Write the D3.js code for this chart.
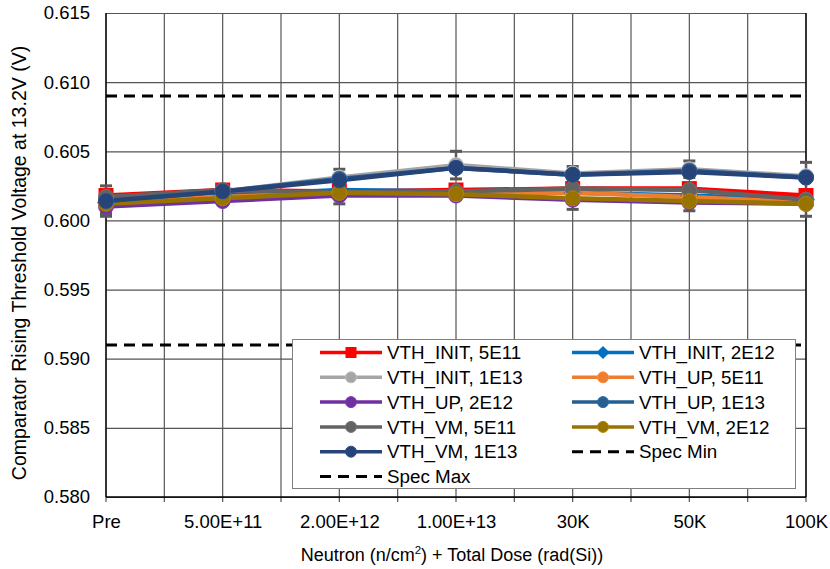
<!DOCTYPE html>
<html>
<head>
<meta charset="utf-8">
<script src="https://cdn.jsdelivr.net/npm/d3@7"></script>
<style>
  html, body { margin: 0; padding: 0; background: #fff; }
  svg { display: block; font-family: "Liberation Sans", Arial, sans-serif; }
</style>
</head>
<body>
<svg id="chart" width="830" height="569"></svg>
<script>
// Irradiation steps along the x axis
const categories = ["Pre", "5.00E+11", "2.00E+12", "1.00E+13", "30K", "50K", "100K"];
const yTicks = [0.580, 0.585, 0.590, 0.595, 0.600, 0.605, 0.610, 0.615];

// Rising threshold voltage (V) per step
const vthInit5E11 = [0.6018, 0.6022, 0.6021, 0.6022, 0.6023, 0.6023, 0.6018];
const vthInit2E12 = [0.6013, 0.6018, 0.6022, 0.6021, 0.6020, 0.6018, 0.6015];
const vthInit1E13 = [0.6015, 0.6021, 0.6031, 0.6040, 0.6034, 0.6037, 0.6032];
const vthUp5E11   = [0.6016, 0.6017, 0.6020, 0.6020, 0.6020, 0.6017, 0.6013];
const vthUp2E12   = [0.6010, 0.6014, 0.6018, 0.6018, 0.6015, 0.6013, 0.6012];
const vthUp1E13   = [0.6014, 0.6021, 0.6030, 0.6038, 0.6033, 0.6036, 0.6031];
const vthVm5E11   = [0.6017, 0.6022, 0.6020, 0.6021, 0.6023, 0.6022, 0.6015];
const vthVm2E12   = [0.6012, 0.6016, 0.6020, 0.6019, 0.6016, 0.6014, 0.6012];
const vthVm1E13   = [0.6014, 0.6021, 0.6029, 0.6038, 0.6033, 0.6035, 0.6031];

// Standard deviation used for error bars
const errInit1E13 = [0.0010, 0.0002, 0.0006, 0.0010, 0.0005, 0.0006, 0.0010];
const errVm2E12   = [0.0009, 0.0002, 0.0008, 0.0002, 0.0008, 0.0007, 0.0009];

// Specification limits (V)
const specMin = 0.591;
const specMax = 0.609;

const series = [
  { name: "VTH_INIT, 5E11", values: vthInit5E11, color: "#FF0000", shape: "square" },
  { name: "VTH_INIT, 2E12", values: vthInit2E12, color: "#0070C0", shape: "diamond" },
  { name: "VTH_INIT, 1E13", values: vthInit1E13, color: "#A5A5A5", shape: "circle", err: errInit1E13 },
  { name: "VTH_UP, 5E11",   values: vthUp5E11,   color: "#ED7D31", shape: "circle" },
  { name: "VTH_UP, 2E12",   values: vthUp2E12,   color: "#7030A0", shape: "circle" },
  { name: "VTH_UP, 1E13",   values: vthUp1E13,   color: "#255E91", shape: "circle" },
  { name: "VTH_VM, 5E11",   values: vthVm5E11,   color: "#636363", shape: "circle" },
  { name: "VTH_VM, 2E12",   values: vthVm2E12,   color: "#997300", shape: "circle", err: errVm2E12 },
  { name: "VTH_VM, 1E13",   values: vthVm1E13,   color: "#264478", shape: "circle" }
];

const svg = d3.select("#chart");
const plotL = 106, plotR = 806, plotT = 13, plotB = 497;

const x = d3.scalePoint().domain(categories).range([plotL, plotR]).padding(0);
const xIdx = d3.scaleLinear().domain([0, categories.length - 1]).range([plotL, plotR]);
const y = d3.scaleLinear().domain([0.580, 0.615]).range([plotB, plotT]);

const gridColor = "#555555";

// horizontal gridlines + y labels
const yAxis = svg.append("g")
  .attr("transform", `translate(${plotL},0)`)
  .call(d3.axisLeft(y).tickValues(yTicks).tickSize(-(plotR - plotL)).tickPadding(16).tickFormat(d3.format(".3f")));
yAxis.select(".domain").remove();
yAxis.selectAll(".tick line").attr("stroke", gridColor).attr("stroke-width", 1.2);
yAxis.selectAll(".tick text").attr("font-size", 18.5).attr("fill", "#000")
  .attr("font-family", "Liberation Sans, Arial, sans-serif");

// vertical gridlines at every half step, extending slightly below the axis
const halfSteps = d3.range(0, categories.length - 0.99, 0.5);
svg.append("g").selectAll("line").data(halfSteps).join("line")
  .attr("x1", d => xIdx(d)).attr("x2", d => xIdx(d))
  .attr("y1", plotT).attr("y2", plotB + 5)
  .attr("stroke", gridColor).attr("stroke-width", 1.2);

// plot frame
svg.append("line").attr("x1", plotL).attr("x2", plotL).attr("y1", plotT).attr("y2", plotB)
  .attr("stroke", "#000").attr("stroke-width", 1.3);
svg.append("line").attr("x1", plotR).attr("x2", plotR).attr("y1", plotT).attr("y2", plotB)
  .attr("stroke", "#000").attr("stroke-width", 1.3);
svg.append("line").attr("x1", plotL).attr("x2", plotR).attr("y1", plotB).attr("y2", plotB)
  .attr("stroke", "#000").attr("stroke-width", 1.3);

// x labels
const xAxis = svg.append("g")
  .attr("transform", `translate(0,${plotB})`)
  .call(d3.axisBottom(x).tickSize(0).tickPadding(18));
xAxis.select(".domain").remove();
xAxis.selectAll(".tick text").attr("font-size", 18.5).attr("fill", "#000")
  .attr("font-family", "Liberation Sans, Arial, sans-serif");

// spec limit lines
[specMax, specMin].forEach(v => {
  svg.append("line")
    .attr("x1", plotL).attr("x2", plotR).attr("y1", y(v)).attr("y2", y(v))
    .attr("stroke", "#000").attr("stroke-width", 3).attr("stroke-dasharray", "11,7");
});

// series lines
const line = d3.line().x((d, i) => x(categories[i])).y(d => y(d));
series.forEach(s => {
  svg.append("path").datum(s.values)
    .attr("d", line).attr("fill", "none")
    .attr("stroke", s.color).attr("stroke-width", 4.5).attr("stroke-linejoin", "round");
});

// error bars
series.filter(s => s.err).forEach(s => {
  const g = svg.append("g").attr("stroke", "#595959").attr("stroke-width", 2.5);
  s.values.forEach((v, i) => {
    const cx = x(categories[i]);
    const e = s.err[i];
    g.append("line").attr("x1", cx).attr("x2", cx).attr("y1", y(v + e)).attr("y2", y(v - e));
    g.append("line").attr("x1", cx - 6).attr("x2", cx + 6).attr("y1", y(v + e)).attr("y2", y(v + e)).attr("stroke-width", 3);
    g.append("line").attr("x1", cx - 6).attr("x2", cx + 6).attr("y1", y(v - e)).attr("y2", y(v - e)).attr("stroke-width", 3);
  });
});

function drawMarker(g, shape, cx, cy, color, size) {
  if (shape === "square") {
    g.append("rect").attr("x", cx - size).attr("y", cy - size)
      .attr("width", size * 2).attr("height", size * 2).attr("fill", color);
  } else if (shape === "diamond") {
    const r = size * 1.2;
    g.append("path").attr("d", `M${cx},${cy - r}L${cx + r},${cy}L${cx},${cy + r}L${cx - r},${cy}Z`)
      .attr("fill", color);
  } else {
    g.append("circle").attr("cx", cx).attr("cy", cy).attr("r", size).attr("fill", color)
      .attr("stroke", d3.color(color).brighter(0.4)).attr("stroke-width", 1);
  }
}

// markers
series.forEach(s => {
  const g = svg.append("g");
  s.values.forEach((v, i) => drawMarker(g, s.shape, x(categories[i]), y(v), s.color, 7.5));
});

// legend
const lg = svg.append("g");
lg.append("rect").attr("x", 292.5).attr("y", 339.5).attr("width", 503).attr("height", 149)
  .attr("fill", "#fff").attr("stroke", "#7f7f7f").attr("stroke-width", 1);

const legendItems = series.map(s => ({ name: s.name, color: s.color, shape: s.shape }))
  .concat([{ name: "Spec Min", dashed: true }, { name: "Spec Max", dashed: true }]);
const colX = [320, 572];
const rowY0 = 352.5, rowStep = 24.8;
legendItems.forEach((d, i) => {
  const cx0 = colX[i % 2];
  const cy = rowY0 + Math.floor(i / 2) * rowStep;
  if (d.dashed) {
    lg.append("line").attr("x1", cx0).attr("x2", cx0 + 62).attr("y1", cy).attr("y2", cy)
      .attr("stroke", "#000").attr("stroke-width", 3).attr("stroke-dasharray", "11,7");
  } else {
    lg.append("line").attr("x1", cx0).attr("x2", cx0 + 62).attr("y1", cy).attr("y2", cy)
      .attr("stroke", d.color).attr("stroke-width", 3.5);
    drawMarker(lg, d.shape, cx0 + 31, cy, d.color, 5.5);
  }
  lg.append("text").attr("x", cx0 + 67).attr("y", cy + 6.6)
    .attr("font-size", 18.8).attr("fill", "#000").text(d.name);
});

// axis titles
svg.append("text")
  .attr("transform", `translate(26,263) rotate(-90)`)
  .attr("text-anchor", "middle").attr("font-size", 19.5).attr("fill", "#000")
  .text("Comparator Rising Threshold Voltage at 13.2V (V)");

const xt = svg.append("text").attr("x", 452).attr("y", 561)
  .attr("text-anchor", "middle").attr("font-size", 18).attr("fill", "#000");
xt.append("tspan").text("Neutron (n/cm");
xt.append("tspan").attr("font-size", 11.5).attr("dy", -7).text("2");
xt.append("tspan").attr("dy", 7).text(") + Total Dose (rad(Si))");
</script>
</body>
</html>
